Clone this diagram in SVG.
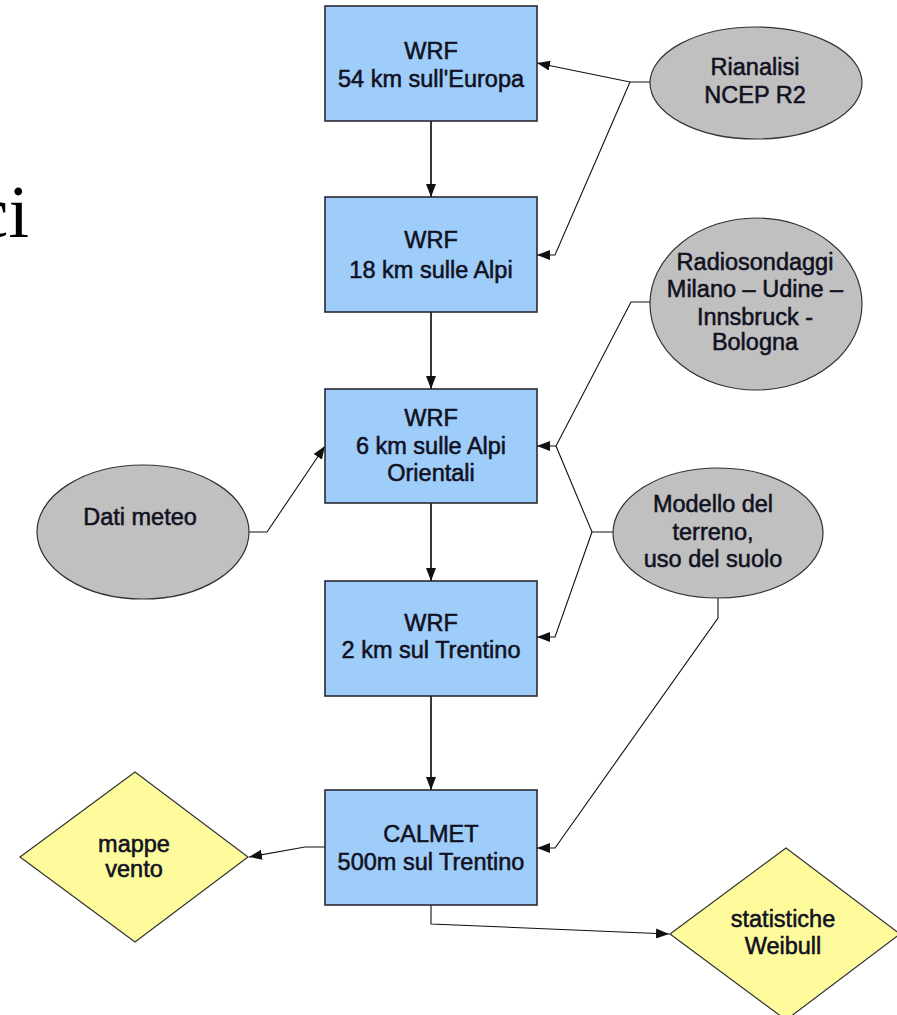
<svg xmlns="http://www.w3.org/2000/svg" width="897" height="1015" viewBox="0 0 897 1015">
<style>
.box{fill:#9fcdfa;stroke:#2a2a33;stroke-width:1.6}
.ell{fill:#c0c0c0;stroke:#333;stroke-width:1.2}
.dia{fill:#fdfb9c;stroke:#333;stroke-width:1.2}
.t{font-family:"Liberation Sans",Arial,sans-serif;font-size:23.5px;fill:#111122;stroke:#111122;stroke-width:0.55;text-anchor:middle}
.c{fill:none;stroke:#111;stroke-width:1.1}
.v{fill:none;stroke:#222;stroke-width:1.8}
</style>
<defs>
<marker id="ah" markerUnits="userSpaceOnUse" markerWidth="14" markerHeight="10" refX="13" refY="5" orient="auto">
<path d="M0,0 L13,5 L0,10 z" fill="#111"/>
</marker>
</defs>
<rect width="897" height="1015" fill="#fff"/>
<text x="29" y="237" font-family="'Liberation Serif','Times New Roman',serif" font-size="74" text-anchor="end" fill="#000">ci</text>
<g id="connectors">
<path class="v" d="M431,121 V197" marker-end="url(#ah)"/>
<path class="v" d="M431,312 V389" marker-end="url(#ah)"/>
<path class="v" d="M431,503 V581" marker-end="url(#ah)"/>
<path class="v" d="M431,696 V790" marker-end="url(#ah)"/>
<path class="c" d="M650,82 L630,82 L537,63" marker-end="url(#ah)"/>
<path class="c" d="M630,82 L555,255 L537,255" marker-end="url(#ah)"/>
<path class="c" d="M650,302 L631,302 L556,446 L537,446" marker-end="url(#ah)"/>
<path class="c" d="M613,532 L592,532 L556,446"/>
<path class="c" d="M592,532 L555,637 L537,637" marker-end="url(#ah)"/>
<path class="c" d="M249,532 L267,532 L325,446" marker-end="url(#ah)"/>
<path class="c" d="M718,598 L718,618 L555,848 L537,848" marker-end="url(#ah)"/>
<path class="c" d="M325,847 L305,847 L249,857" marker-end="url(#ah)"/>
<path class="c" d="M431,905 L431,924 L669,934" marker-end="url(#ah)"/>
</g>
<g id="wrf54">
<rect class="box" x="325" y="6" width="212" height="115"/>
<text class="t" x="431" y="59">WRF</text>
<text class="t" x="431" y="87">54 km sull'Europa</text>
</g>
<g id="wrf18">
<rect class="box" x="325" y="197" width="212" height="115"/>
<text class="t" x="431" y="248">WRF</text>
<text class="t" x="431" y="278">18 km sulle Alpi</text>
</g>
<g id="wrf6">
<rect class="box" x="325" y="389" width="212" height="114"/>
<text class="t" x="431" y="426">WRF</text>
<text class="t" x="431" y="454">6 km sulle Alpi</text>
<text class="t" x="431" y="481">Orientali</text>
</g>
<g id="wrf2">
<rect class="box" x="325" y="581" width="212" height="115"/>
<text class="t" x="431" y="631">WRF</text>
<text class="t" x="431" y="658">2 km sul Trentino</text>
</g>
<g id="calmet">
<rect class="box" x="325" y="790" width="212" height="115"/>
<text class="t" x="431" y="842">CALMET</text>
<text class="t" x="431" y="870">500m sul Trentino</text>
</g>
<g id="rianalisi">
<ellipse class="ell" cx="756" cy="83" rx="106" ry="56"/>
<text class="t" x="755" y="75">Rianalisi</text>
<text class="t" x="755" y="103">NCEP R2</text>
</g>
<g id="radiosondaggi">
<ellipse class="ell" cx="756" cy="304" rx="106" ry="86"/>
<text class="t" x="755" y="270">Radiosondaggi</text>
<text class="t" x="755" y="297">Milano – Udine –</text>
<text class="t" x="755" y="325">Innsbruck -</text>
<text class="t" x="755" y="350">Bologna</text>
</g>
<g id="modello">
<ellipse class="ell" cx="718" cy="533" rx="105" ry="65"/>
<text class="t" x="713" y="512">Modello del</text>
<text class="t" x="713" y="540">terreno,</text>
<text class="t" x="713" y="567">uso del suolo</text>
</g>
<g id="datimeteo">
<ellipse class="ell" cx="143" cy="532" rx="106" ry="67"/>
<text class="t" x="140" y="525">Dati meteo</text>
</g>
<g id="mappe">
<polygon class="dia" points="20,857 135,772 248,857 135,942"/>
<text class="t" x="134" y="852">mappe</text>
<text class="t" x="134" y="877">vento</text>
</g>
<g id="statistiche">
<polygon class="dia" points="670,934 786,848 900,934 786,1020"/>
<text class="t" x="783" y="927">statistiche</text>
<text class="t" x="783" y="954">Weibull</text>
</g>
</svg>
